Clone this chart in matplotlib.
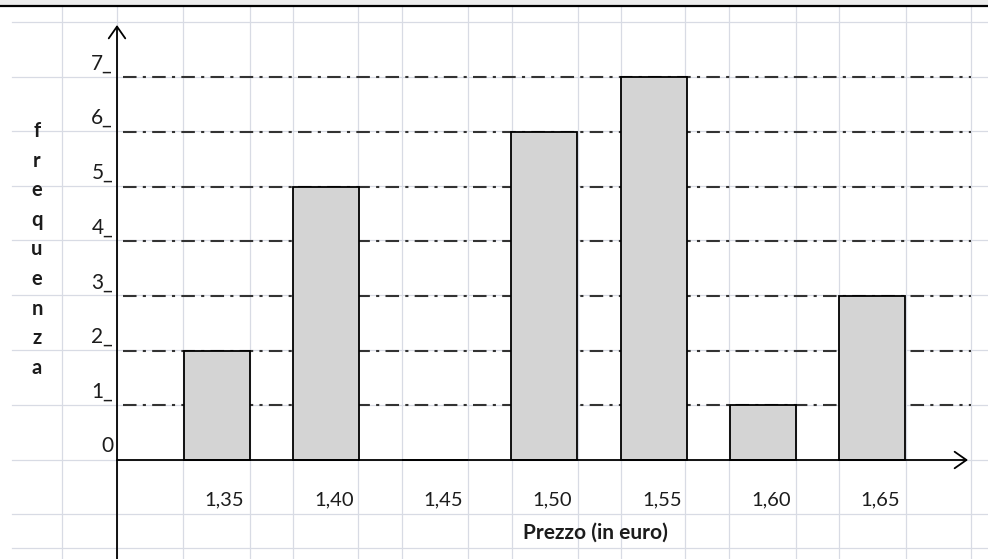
import matplotlib.pyplot as plt
from matplotlib.patches import Rectangle

plt.rcParams['font.family'] = ['Lato', 'DejaVu Sans']

# prezzi e frequenze
prezzi = [1.35, 1.40, 1.45, 1.50, 1.55, 1.60, 1.65]
frequenze = [2, 5, 0, 6, 7, 1, 3]
etichette_x = ["1,35", "1,40", "1,45", "1,50", "1,55", "1,60", "1,65"]
livelli_y = [0, 1, 2, 3, 4, 5, 6, 7]
etichette_y = ["0", "1_", "2_", "3_", "4_", "5_", "6_", "7_"]
titolo_y = "frequenza"
titolo_x = "Prezzo (in euro)"

W, H = 988, 559

# righe e colonne del foglio (pixel)
colonne = [62, 117, 183, 250, 293, 358, 402, 468, 512, 578,
           621, 685, 729, 796, 839, 906, 971]
righe = [22, 77, 131, 186, 240, 295, 350, 405, 460, 514, 548]


# conversione pixel -> valori del grafico
def px_x(p):
    return 1.35 + (p - 216.5) * 0.05 / 109.33


def px_y(p):
    return (460 - p) / 54.7


fig = plt.figure(figsize=(W / 100, H / 100), dpi=100)

# sfondo a quadretti
bg = fig.add_axes([0, 0, 1, 1])
bg.set_xlim(0, W)
bg.set_ylim(H, 0)
bg.axis("off")
for c in colonne:
    bg.plot([c, c], [7, H], color="#d8dbe4", lw=0.9, zorder=0)
for r in righe:
    bg.plot([12, W], [r, r], color="#d8dbe4", lw=0.9, zorder=0)
bg.add_patch(Rectangle((0, 0), W, 5, color="#ececec", lw=0, zorder=1))
bg.plot([0, W], [6, 6], color="black", lw=1.6, zorder=2)

ax = fig.add_axes([0, 0, 1, 1])
ax.patch.set_alpha(0)
ax.axis("off")
ax.set_xlim(px_x(0), px_x(W))
ax.set_ylim(px_y(H), px_y(0))

# linee tratto-punto ai livelli 1..7
ax.hlines(livelli_y[1:], px_x(123), px_x(971), colors="#333333", lw=1.5,
          linestyles=(0, (6.5, 3, 1.5, 3)), zorder=2)

bar_w = 66 / 109.33 * 0.05
ax.bar(prezzi, frequenze, width=bar_w, color="#d4d4d4",
       edgecolor="black", linewidth=1.3, zorder=3)

# assi con freccia
arrow = dict(arrowstyle="->, head_length=0.5, head_width=0.35",
             color="black", lw=1.3, mutation_scale=17, shrinkA=0, shrinkB=0)
ax.annotate("", xy=(px_x(968), 0), xytext=(px_x(117), 0),
            arrowprops=arrow, annotation_clip=False, zorder=4)
ax.annotate("", xy=(px_x(117), px_y(25)), xytext=(px_x(117), px_y(H + 5)),
            arrowprops=arrow, annotation_clip=False, zorder=4)

testo = "#1c1c1c"
for p, lab in zip(prezzi, etichette_x):
    ax.text(p + 0.0037, px_y(500), lab, ha="center", va="center",
            fontsize=14.5, color=testo)

for v, lab in zip(livelli_y, etichette_y):
    ax.text(px_x(113), v + 0.25, lab, ha="right", va="center",
            fontsize=15, color=testo)

ax.text(px_x(595), px_y(533), titolo_x, ha="center", va="center",
        fontsize=15, fontweight="bold", color=testo)

for i, ch in enumerate(titolo_y):
    ax.text(px_x(37), px_y(131 + i * 29.6), ch, ha="center", va="center",
            fontsize=14.5, fontweight="bold", color=testo)

fig.savefig("out.png", dpi=100)
